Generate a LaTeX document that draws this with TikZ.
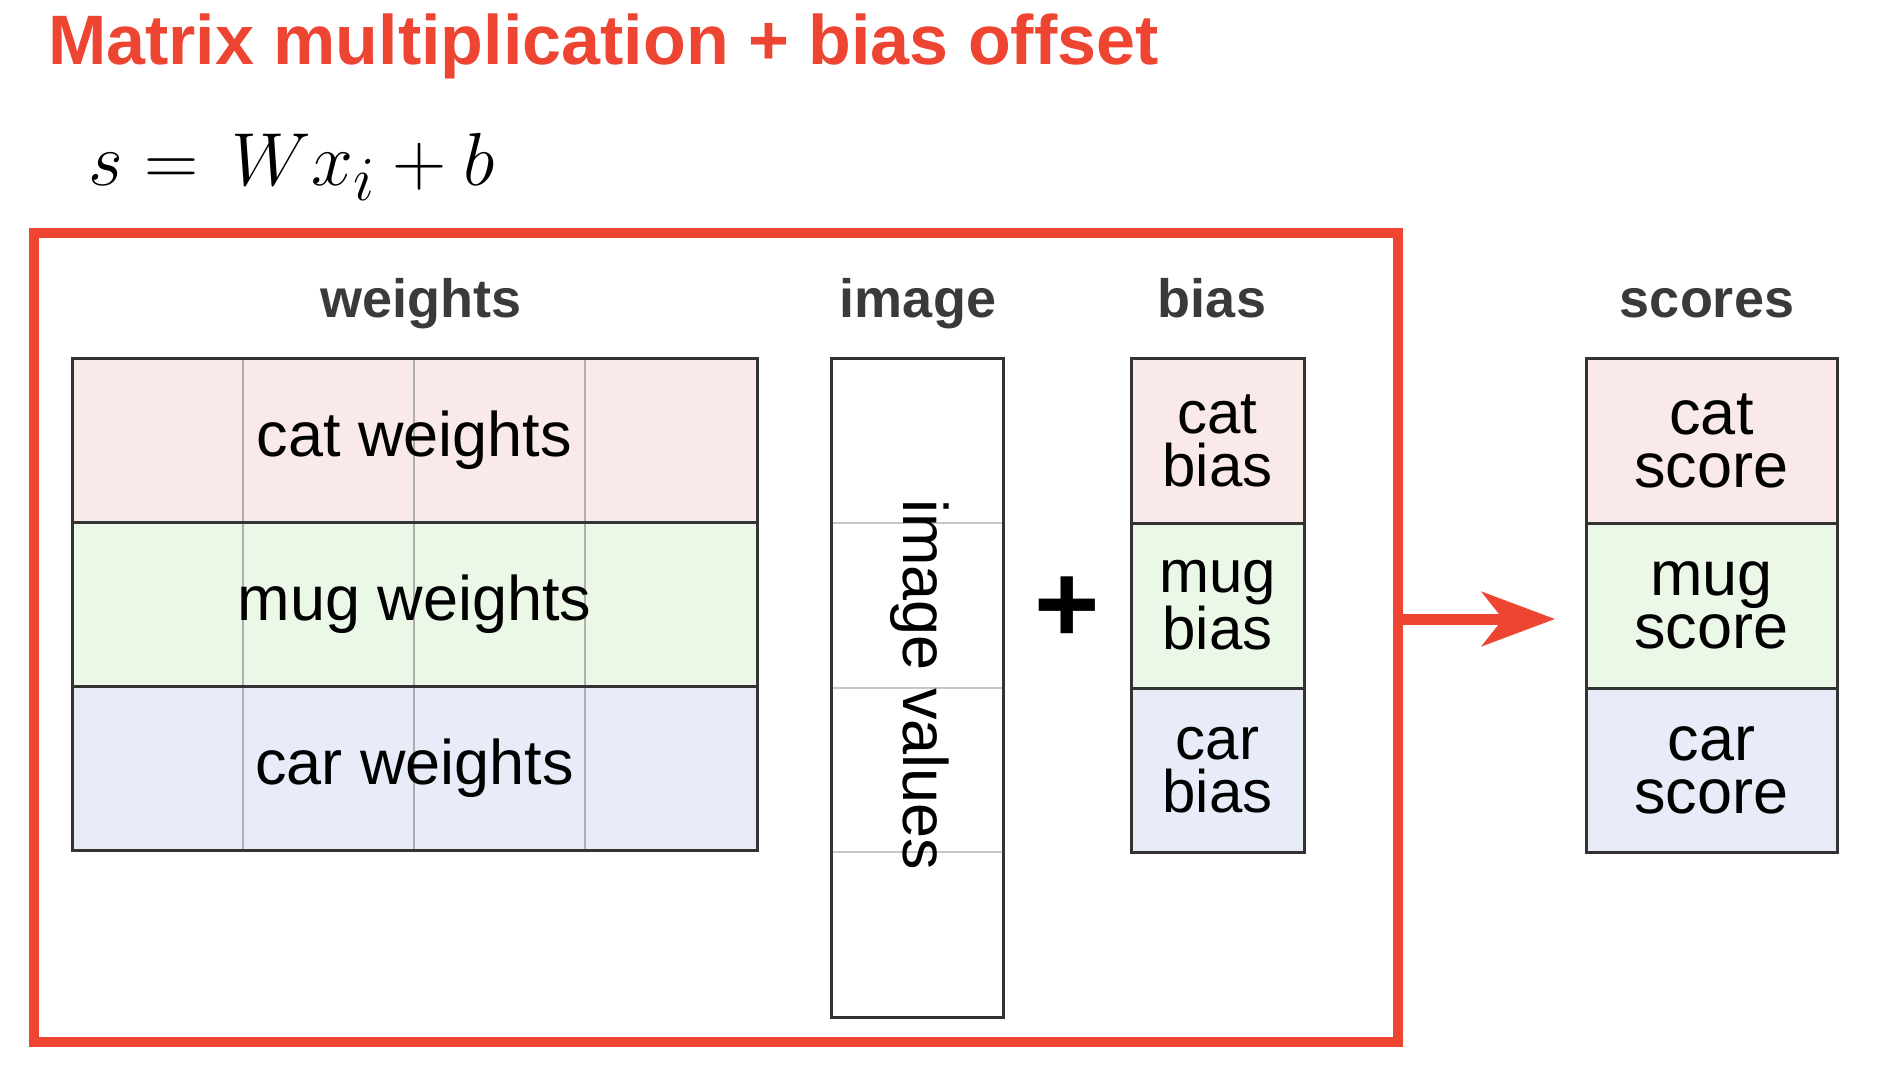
\documentclass[tikz,border=0pt]{standalone}
\usepackage[no-math]{fontspec}
\setmainfont{Liberation Sans}
\usepackage{tikz}
\usetikzlibrary{arrows.meta}
\usetikzlibrary{positioning}
\definecolor{redc}{RGB}{238,68,50}
\definecolor{catpink}{RGB}{249,233,233}
\definecolor{mugpale}{RGB}{235,248,231}
\definecolor{carblue}{RGB}{231,236,248}
\definecolor{cellline}{RGB}{51,51,51}
\definecolor{gridgrey}{RGB}{175,175,175}
\definecolor{headgrey}{RGB}{58,58,58}
\newcommand{\cellfont}{\fontsize{63}{53}\selectfont}
\newcommand{\biasfont}{\fontsize{60}{53}\selectfont}
\newcommand{\headfont}{\fontsize{54}{60}\selectfont\bfseries}
\tikzstyle{cell}=[draw=cellline, line width=3pt, inner sep=0pt, outer sep=0pt, align=center, font=\cellfont]
\tikzstyle{head}=[anchor=base, inner sep=0pt, text=headgrey, font=\headfont]
\tikzstyle{gridline}=[draw=gridgrey, line width=2pt]

\begin{document}
\begin{tikzpicture}[x=1pt,y=-1pt]
    \useasboundingbox (0,0) rectangle (1882,1074);
    % title and formula
    \node[anchor=base west, inner sep=0pt, text=redc, font=\fontsize{70}{72}\selectfont\bfseries] (title) at (48,64) {Matrix multiplication + bias offset};
    \node[anchor=base west, inner sep=0pt, scale=3.02, transform shape, font=\fontsize{24.88}{30}\selectfont] (formula) at (88,185) {$s = \,Wx_i + b$};
    % red frame and arrow
    \node[draw=redc, line width=10pt, inner sep=0pt, outer sep=0pt, minimum width=1364pt, minimum height=809pt] (frame) at (716,637.5) {};
    \coordinate (tip) at (1555,619);
    \draw[draw=redc, line width=11pt, -{Stealth[length=73pt,width=54pt,inset=21pt]}] (frame.east |- tip) -- (tip);
    % headers
    \node[head] (hweights) at (421,317) {weights};
    \node[head] (himage) at (918,317) {image};
    \node[head] (hbias) at (1212,317) {bias};
    \node[head] (hscores) at (1707,317) {scores};
    % weights
    \foreach \y/\c in {358/catpink,522/mugpale,686/carblue}
        \fill[\c] (72,\y) rectangle ++(685,164);
    \foreach \x in {243,414,585}
        \draw[gridline] (\x,358) -- (\x,850);
    \node[cell, minimum width=685pt, minimum height=164pt] (wcat) at (414.5,440) {cat weights};
    \node[cell, minimum width=685pt, minimum height=164pt, below=0pt of wcat] (wmug) {mug weights};
    \node[cell, minimum width=685pt, minimum height=164pt, below=0pt of wmug] (wcar) {car weights};
    % image
    \foreach \y in {523,688,852}
        \draw[gridline, draw=gridgrey!70] (831,\y) -- (1003,\y);
    \node[cell, minimum width=172pt, minimum height=659pt] (img) at (917,687.5) {};
    \node[rotate=-90, inner sep=0pt, font=\cellfont] (imgtext) at (920,685) {image values};
    \node[inner sep=0pt, font=\fontsize{112}{112}\selectfont\bfseries] (plus) at (1067,610) {+};
    % bias
    \node[cell, font=\biasfont, fill=catpink, minimum width=173pt, minimum height=165pt] (bcat) at (1217.5,440.5) {cat\\bias};
    \node[cell, font=\biasfont, fill=mugpale, minimum width=173pt, minimum height=165pt, below=0pt of bcat] (bmug) {mug\\bias};
    \node[cell, font=\biasfont, fill=carblue, minimum width=173pt, minimum height=164pt, below=0pt of bmug] (bcar) {car\\bias};
    % scores
    \node[cell, fill=catpink, minimum width=251pt, minimum height=165pt] (scat) at (1711.5,440.5) {cat\\score};
    \node[cell, fill=mugpale, minimum width=251pt, minimum height=165pt, below=0pt of scat] (smug) {mug\\score};
    \node[cell, fill=carblue, minimum width=251pt, minimum height=164pt, below=0pt of smug] (scar) {car\\score};
\end{tikzpicture}
\end{document}
